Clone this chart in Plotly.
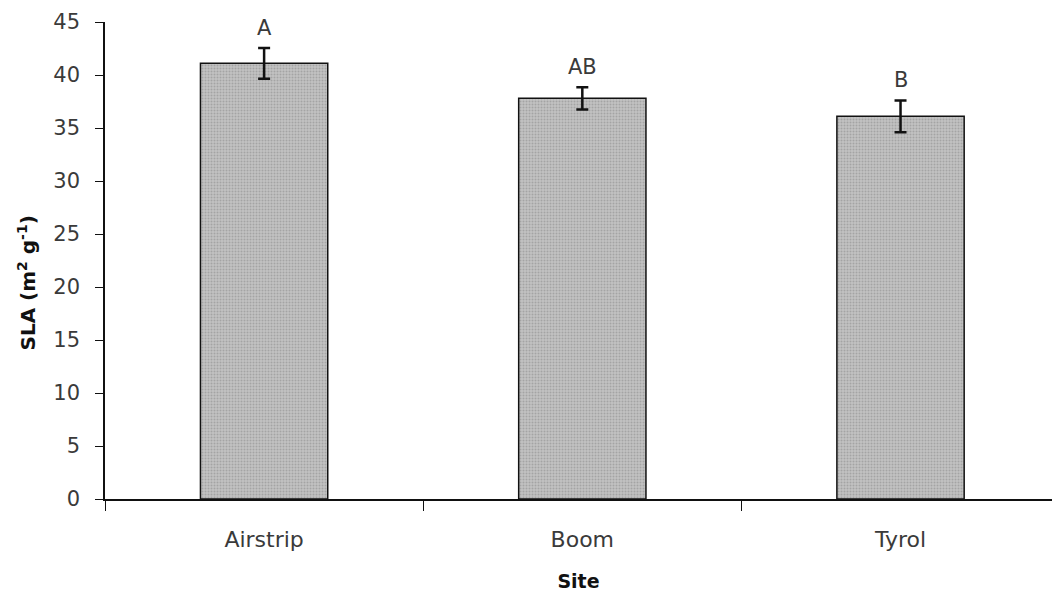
import plotly.graph_objects as go

# Specific leaf area by site, with standard errors and significance letters
sites = ["Airstrip", "Boom", "Tyrol"]
sla_mean = [41.1, 37.8, 36.1]
sla_se = [1.45, 1.05, 1.5]
group_letters = ["A", "AB", "B"]

y_ticks = [0, 5, 10, 15, 20, 25, 30, 35, 40, 45]

FONT = "DejaVu Sans"
W, H = 1052, 597
M_L, M_R, M_T, M_B = 104.5, 0, 21.5, 97.5

fig = go.Figure()

fig.add_trace(go.Bar(
    x=sites,
    y=sla_mean,
    width=0.4,
    marker=dict(
        color="#b9b9b9",
        line=dict(color="#111111", width=1.5),
        pattern=dict(shape=".", fgcolor="#858585", bgcolor="#c2c2c2",
                     size=3, solidity=0.35),
    ),
    error_y=dict(type="data", array=sla_se, visible=True,
                 color="#111111", thickness=2.5, width=6),
    showlegend=False,
))

for site, m, se, lab in zip(sites, sla_mean, sla_se, group_letters):
    fig.add_annotation(
        x=site, y=m + se, text=lab, showarrow=False,
        yanchor="middle", yshift=20,
        font=dict(family=FONT, size=21, color="#3a3a3a"),
    )

# Rotated y-axis title placed in pixel terms relative to the plot area
plot_w = W - M_L - M_R
plot_h = H - M_T - M_B
fig.add_annotation(
    xref="paper", yref="paper",
    x=(26 - M_L) / plot_w, y=(H - M_B - 283) / plot_h,
    text="<b>SLA (m<sup>2</sup> g<sup>-1</sup>)</b>",
    textangle=-90, showarrow=False,
    xanchor="center", yanchor="middle",
    font=dict(family=FONT, size=20, color="#111111"),
)

fig.update_layout(
    width=W, height=H,
    margin=dict(l=M_L, r=M_R, t=M_T, b=M_B),
    paper_bgcolor="white", plot_bgcolor="white",
    font=dict(family=FONT, color="#222222"),
)

fig.update_xaxes(
    type="category",
    range=[-0.5, 2.476],
    showline=True, linecolor="#111111", linewidth=1.5,
    ticks="outside", tickson="boundaries", ticklen=10,
    tickcolor="#111111", tickwidth=1,
    showgrid=False, zeroline=False,
    tickfont=dict(family=FONT, size=22, color="#3a3a3a"),
    ticklabelstandoff=20,
    title=dict(text="<b>Site</b>", font=dict(family=FONT, size=19, color="#111111"),
               standoff=24),
)

fig.update_yaxes(
    range=[0, 45],
    tickvals=y_ticks,
    showline=True, linecolor="#111111", linewidth=1.5,
    ticks="outside", ticklen=8, tickcolor="#111111", tickwidth=1,
    showgrid=False, zeroline=False,
    tickfont=dict(family=FONT, size=21, color="#3a3a3a"),
    ticklabelstandoff=11,
)

fig.write_html("out.html")
